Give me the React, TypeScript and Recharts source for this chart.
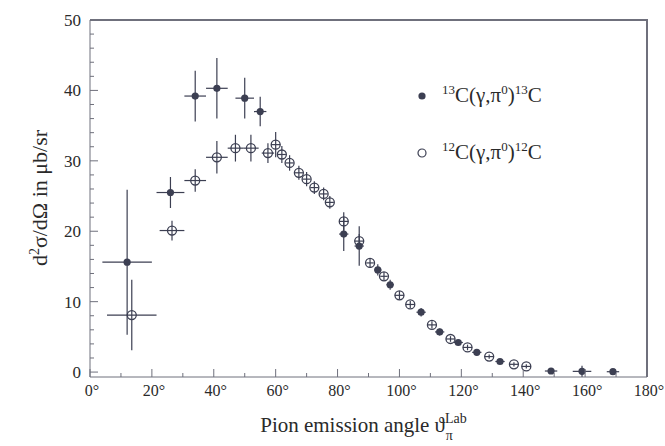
import React from "react";
import { ErrorBar, Scatter, ScatterChart, XAxis, YAxis } from "recharts";

// 13C(γ,π0)13C  (filled markers)
const c13Angle = [12, 26, 34, 41, 50, 55, 82, 87, 93, 97, 107, 113, 119, 125, 132.5, 149, 159, 169];
const c13Value = [15.6, 25.5, 39.2, 40.3, 38.9, 37.0, 19.6, 17.9, 14.5, 12.4, 8.5, 5.7, 4.2, 2.8, 1.5, 0.15, 0.1, 0.05];
const c13ErrY = [10.3, 2.2, 3.6, 4.3, 2.9, 2.1, 2.4, 2.8, 0.8, 0.7, 0.6, 0.5, 0.4, 0.4, 0.3, 0.3, 0.8, 0.3];
const c13ErrX = [8, 4.5, 3.5, 3.5, 3, 2, 1.5, 1.5, 1.2, 1.2, 1.5, 1.5, 1.5, 1.5, 1.5, 2, 3, 2];

// 12C(γ,π0)12C  (open markers)
const c12Angle = [13.5, 26.5, 34, 41, 47, 52, 57.5, 60, 62, 64.5, 67.5, 70, 72.5, 75.5, 77.5, 82, 87, 90.5, 95, 100, 103.5, 110.5, 116.5, 122, 129, 137, 141];
const c12Value = [8.1, 20.1, 27.2, 30.5, 31.8, 31.8, 31.1, 32.3, 30.9, 29.7, 28.3, 27.4, 26.2, 25.3, 24.1, 21.4, 18.6, 15.5, 13.6, 10.9, 9.6, 6.7, 4.7, 3.5, 2.2, 1.1, 0.8];
const c12ErrY = [5, 1.4, 1.6, 2.3, 1.9, 1.9, 1.4, 1.8, 1.2, 1.1, 1.0, 1.0, 0.9, 0.9, 0.9, 1.3, 1.0, 0.7, 0.6, 0.6, 0.5, 0.5, 0.4, 0.4, 0.3, 0.3, 0.3];
const c12ErrX = [8, 4, 3.5, 3.5, 2.5, 2.5, 2, 1.5, 1.3, 1.3, 1.3, 1.3, 1.3, 1.3, 1.3, 1.5, 1.5, 1.2, 1.2, 1.5, 1.5, 1.5, 1.5, 1.5, 1.5, 1.5, 1.5];

const xTicks = [0, 10, 20, 30, 40, 50, 60, 70, 80, 90, 100, 110, 120, 130, 140, 150, 160, 170, 180];
const yTicks = [0, 2, 4, 6, 8, 10, 12, 14, 16, 18, 20, 22, 24, 26, 28, 30, 32, 34, 36, 38, 40, 42, 44, 46, 48, 50];

const ink = "#3c3f52";
const textColor = "#2a2a2a";
const axisColor = "#6f707c";
const serif = "'Liberation Serif', 'DejaVu Serif', serif";

const c13Data = c13Angle.map((a, i) => ({ angle: a, value: c13Value[i], ey: c13ErrY[i], ex: c13ErrX[i] }));
const c12Data = c12Angle.map((a, i) => ({ angle: a, value: c12Value[i], ey: c12ErrY[i], ex: c12ErrX[i] }));

function XTick(props: any) {
  const { x, y, payload } = props;
  const major = payload.value % 20 === 0;
  const len = major ? 8 : 4;
  return (
    <g>
      <line x1={x} x2={x} y1={y} y2={y - len} stroke={axisColor} strokeWidth={1} />
      {major && (
        <text x={x + 2} y={y + 19} textAnchor="middle" fontFamily="Liberation Serif" fontSize={16} fill={textColor}>
          {payload.value}°
        </text>
      )}
    </g>
  );
}

function YTick(props: any) {
  const { x, y, payload } = props;
  const major = payload.value % 10 === 0;
  const len = major ? 8 : 4;
  return (
    <g>
      <line x1={x} x2={x + len} y1={y} y2={y} stroke={axisColor} strokeWidth={1} />
      {major && (
        <text x={x - 9} y={y + 6} textAnchor="end" fontFamily="Liberation Serif" fontSize={17} fill={textColor}>
          {payload.value}
        </text>
      )}
    </g>
  );
}

const FilledMark = (p: any) => <circle cx={p.cx} cy={p.cy} r={3.6} fill={ink} />;
const OpenMark = (p: any) => <circle cx={p.cx} cy={p.cy} r={4.5} fill="none" stroke={ink} strokeWidth={1.3} />;

function XTitle(props: any) {
  const vb = props.viewBox;
  const cx = vb.x + vb.width / 2;
  return (
    <text x={cx - 5} y={vb.y + 55} textAnchor="middle" fontFamily="Liberation Serif" fontSize={21} fill={textColor}>
      Pion emission angle ϑ
      <tspan dy={-9} fontSize={14}>Lab</tspan>
      <tspan dx={-21} dy={17} fontSize={14}>π</tspan>
    </text>
  );
}

function LegendBox() {
  const row = { display: "flex", alignItems: "center", height: 57, fontFamily: serif, fontSize: 21, color: textColor };
  const sup = { fontSize: 13, verticalAlign: "super" as const, lineHeight: 0 };
  return (
    <div style={{ position: "absolute", left: 414, top: 67, width: 220 }}>
      <div style={row}>
        <svg width={22} height={14}>
          <circle cx={8} cy={7} r={3.6} fill={ink} />
        </svg>
        <span style={{ marginLeft: 6 }}>
          <span style={sup}>13</span>C(γ,π<span style={sup}>0</span>)<span style={sup}>13</span>C
        </span>
      </div>
      <div style={row}>
        <svg width={22} height={14}>
          <circle cx={8} cy={7} r={4} fill="none" stroke={ink} strokeWidth={1.2} />
        </svg>
        <span style={{ marginLeft: 6 }}>
          <span style={sup}>12</span>C(γ,π<span style={sup}>0</span>)<span style={sup}>12</span>C
        </span>
      </div>
    </div>
  );
}

export default function App() {
  return (
    <div style={{ position: "absolute", left: 0, top: 0, width: 665, height: 446, background: "#fff" }}>
      <ScatterChart width={665} height={446} margin={{ top: 20, right: 18, bottom: 0, left: 0 }}>
        <XAxis
          dataKey="angle"
          type="number"
          domain={[0, 180]}
          ticks={xTicks}
          interval={0}
          height={69}
          tickSize={0}
          tickMargin={0}
          tickLine={false}
          axisLine={{ stroke: axisColor }}
          tick={<XTick />}
          label={<XTitle />}
        />
        <YAxis
          dataKey="value"
          type="number"
          domain={[0, 50]}
          ticks={yTicks}
          interval={0}
          width={90}
          tickSize={0}
          tickMargin={0}
          tickLine={false}
          axisLine={{ stroke: axisColor }}
          tick={<YTick />}
        />
        <Scatter name="13C" data={c13Data} shape={<FilledMark />} isAnimationActive={false}>
          <ErrorBar dataKey="ey" direction="y" width={0} stroke={ink} strokeWidth={1.2} />
          <ErrorBar dataKey="ex" direction="x" width={0} stroke={ink} strokeWidth={1.2} />
        </Scatter>
        <Scatter name="12C" data={c12Data} shape={<OpenMark />} isAnimationActive={false}>
          <ErrorBar dataKey="ey" direction="y" width={0} stroke={ink} strokeWidth={1.2} />
          <ErrorBar dataKey="ex" direction="x" width={0} stroke={ink} strokeWidth={1.2} />
        </Scatter>
        <text
          transform="translate(47,198) rotate(-90)"
          textAnchor="middle"
          fontFamily="Liberation Serif"
          fontSize={22}
          fill={textColor}
        >
          d<tspan dy={-8} fontSize={14}>2</tspan>
          <tspan dy={8}>σ/dΩ in μb/sr</tspan>
        </text>
      </ScatterChart>
      {/* plot frame: top and right edges */}
      <div
        style={{
          position: "absolute",
          left: 90,
          top: 19,
          width: 558,
          height: 358,
          boxSizing: "border-box",
          borderTop: `2px solid ${axisColor}`,
          borderRight: `2px solid ${axisColor}`,
          pointerEvents: "none",
        }}
      />
      <LegendBox />
    </div>
  );
}
